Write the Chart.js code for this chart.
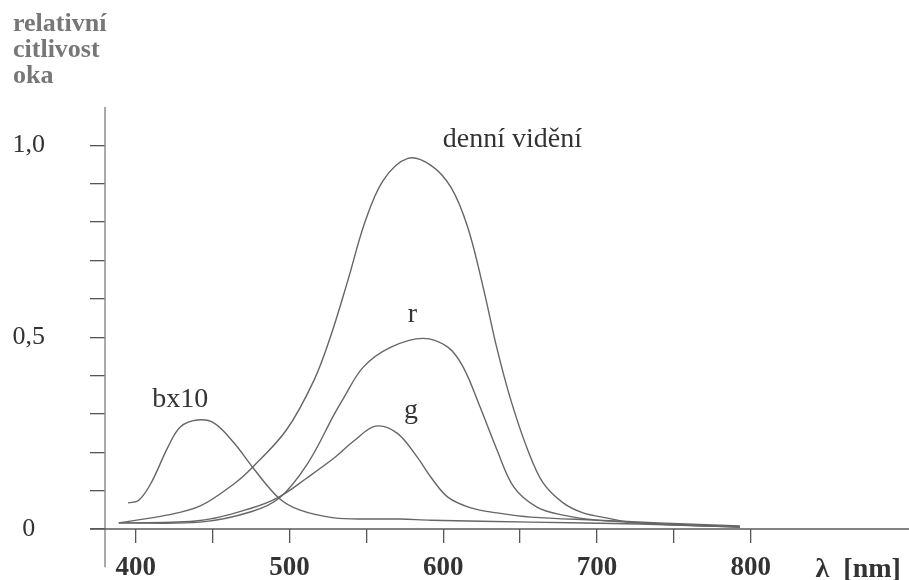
<!DOCTYPE html>
<html lang="cs">
<head>
<meta charset="utf-8">
<title>Relativní citlivost oka</title>
<script src="https://cdn.jsdelivr.net/npm/chart.js@4.4.0/dist/chart.umd.min.js"></script>
<style>
  html, body { margin: 0; padding: 0; background: #fff; }
  #wrap { width: 909px; height: 580px; }
</style>
</head>
<body>
<div id="wrap"><canvas id="eyeChart" width="909" height="580"></canvas></div>
<script>
// wavelength [nm] / relative sensitivity for each curve
const dayNm  = [389, 420, 442, 464, 476, 498, 516, 527, 538, 549, 561, 577, 592, 605, 616, 626, 635, 644, 655, 665, 678, 691, 706, 721, 750, 793];
const dayVal = [0.016, 0.036, 0.060, 0.118, 0.161, 0.258, 0.388, 0.505, 0.648, 0.799, 0.909, 0.966, 0.948, 0.891, 0.786, 0.630, 0.470, 0.336, 0.206, 0.120, 0.068, 0.042, 0.029, 0.018, 0.011, 0.005];

const rNm  = [389, 442, 475, 494, 512, 529, 535, 548, 566, 587, 603, 613, 624, 635, 646, 661, 678, 700, 740, 793];
const rVal = [0.016, 0.018, 0.045, 0.083, 0.172, 0.298, 0.340, 0.422, 0.474, 0.497, 0.474, 0.422, 0.318, 0.206, 0.109, 0.057, 0.036, 0.023, 0.014, 0.006];

const gNm  = [389, 442, 475, 493, 512, 529, 542, 556, 570, 583, 592, 603, 618, 635, 657, 700, 740, 793];
const gVal = [0.016, 0.022, 0.054, 0.083, 0.135, 0.185, 0.230, 0.268, 0.250, 0.188, 0.135, 0.083, 0.055, 0.042, 0.031, 0.023, 0.016, 0.008];

const bNm  = [395, 402, 410, 421, 429, 440, 451, 464, 476, 493, 507, 529, 551, 572, 592, 657, 728, 793];
const bVal = [0.068, 0.075, 0.120, 0.214, 0.266, 0.284, 0.276, 0.224, 0.161, 0.081, 0.049, 0.029, 0.026, 0.026, 0.023, 0.018, 0.013, 0.005];

const xTickValues = [400, 450, 500, 550, 600, 650, 700, 750, 800];
const xTickLabels = ['400', '', '500', '', '600', '', '700', '', '800'];
const yTickValues = [0, 0.1, 0.2, 0.3, 0.4, 0.5, 0.6, 0.7, 0.8, 0.9, 1.0];
const yTickLabels = ['0', '', '', '', '', '0,5', '', '', '', '', '1,0'];

const serif = "'Liberation Serif', 'Times New Roman', serif";
const curveColor = '#666';

// captions next to the curves, in data units (nm, sensitivity)
const captions = [
  { text: 'denní vidění', nm: 645, v: 0.995 },
  { text: 'r', nm: 580, v: 0.539 },
  { text: 'g', nm: 579, v: 0.289 },
  { text: 'bx10', nm: 429, v: 0.318 }
];

const toPoints = (xs, ys) => xs.map((x, i) => ({ x: x, y: ys[i] }));

const curve = (label, xs, ys) => ({
  label: label,
  data: toPoints(xs, ys),
  borderColor: curveColor,
  borderWidth: 1.4,
  pointRadius: 0,
  fill: false,
  tension: 0.35
});

// axis lines (crossing each other a bit) and the text annotations
const axesPlugin = {
  id: 'axes',
  afterDraw(chart) {
    const { ctx, chartArea, scales: { x, y } } = chart;
    ctx.save();
    ctx.lineWidth = 1.5;
    ctx.strokeStyle = '#8c8c8c';
    ctx.beginPath();
    ctx.moveTo(chartArea.left, chartArea.top);
    ctx.lineTo(chartArea.left, y.getPixelForValue(-0.1));
    ctx.stroke();

    ctx.strokeStyle = '#5a5a5a';
    ctx.beginPath();
    ctx.moveTo(chartArea.left - 15, chartArea.bottom);
    ctx.lineTo(chart.width, chartArea.bottom);
    ctx.stroke();

    ctx.fillStyle = '#333';
    ctx.textAlign = 'center';
    ctx.textBaseline = 'alphabetic';
    ctx.font = '28px ' + serif;
    captions.forEach(c => {
      ctx.fillText(c.text, x.getPixelForValue(c.nm), y.getPixelForValue(c.v));
    });
    ctx.font = 'bold 28px ' + serif;
    ctx.fillText('λ  [nm]', x.getPixelForValue(870), y.getPixelForValue(-0.125));
    ctx.restore();
  }
};

new Chart(document.getElementById('eyeChart'), {
  type: 'line',
  data: {
    datasets: [
      curve('denní vidění', dayNm, dayVal),
      curve('r', rNm, rVal),
      curve('g', gNm, gVal),
      curve('bx10', bNm, bVal)
    ]
  },
  options: {
    responsive: false,
    animation: false,
    events: [],
    layout: { padding: { left: 13, right: 0, top: 0, bottom: 0 } },
    plugins: {
      colors: { enabled: false },
      legend: { display: false },
      tooltip: { enabled: false },
      title: {
        display: true,
        text: ['relativní', 'citlivost', 'oka'],
        align: 'start',
        color: '#777',
        font: { family: serif, size: 26, weight: 'bold', lineHeight: 1 },
        padding: { top: 11, bottom: 18 }
      }
    },
    scales: {
      x: {
        type: 'linear',
        min: 380,
        max: 903,
        afterBuildTicks: s => { s.ticks = xTickValues.map(v => ({ value: v })); },
        afterFit: s => { s.height = 51; s.paddingLeft = 0; s.paddingRight = 0; },
        border: { display: false },
        grid: { drawOnChartArea: false, drawTicks: true, tickLength: 14, color: '#555', lineWidth: 1.3 },
        ticks: {
          padding: 9,
          color: '#333',
          autoSkip: false,
          maxRotation: 0,
          font: { family: serif, size: 27, weight: 'bold' },
          callback: (v, i) => xTickLabels[i]
        }
      },
      y: {
        type: 'linear',
        min: 0,
        max: 1.1,
        afterBuildTicks: s => { s.ticks = yTickValues.map(v => ({ value: v })); },
        afterFit: s => { s.width = 92; s.paddingTop = 0; s.paddingBottom = 0; },
        border: { display: false },
        grid: { drawOnChartArea: false, drawTicks: true, tickLength: 15, color: '#555', lineWidth: 1.3 },
        ticks: {
          padding: 45,
          crossAlign: 'center',
          color: '#333',
          font: { family: serif, size: 26 },
          callback: (v, i) => yTickLabels[i]
        }
      }
    }
  },
  plugins: [axesPlugin]
});
</script>
</body>
</html>
